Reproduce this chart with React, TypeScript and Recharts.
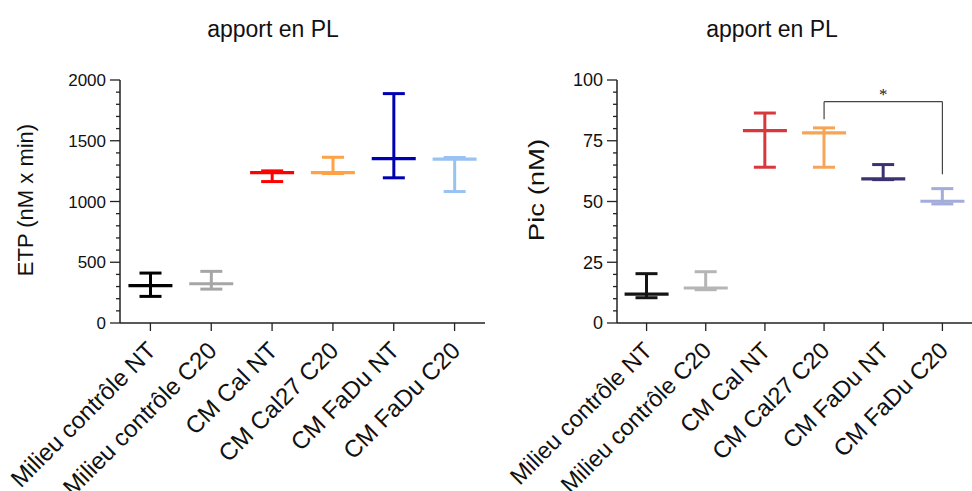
import React from "react";
import {
  ComposedChart,
  Bar,
  Line,
  XAxis,
  YAxis,
  ReferenceLine,
  ReferenceDot,
} from "recharts";

const FONT = '"Liberation Sans", Arial, sans-serif';

const categories = [
  "Milieu contrôle NT",
  "Milieu contrôle C20",
  "CM Cal NT",
  "CM Cal27 C20",
  "CM FaDu NT",
  "CM FaDu C20",
];

// left panel: ETP (nM x min)
const etpMean = [307, 323, 1238, 1238, 1353, 1348];
const etpLow = [219, 279, 1164, 1230, 1195, 1082];
const etpHigh = [411, 425, 1252, 1364, 1888, 1362];
const etpColors = ["#000000", "#a6a6a6", "#ff0000", "#ffa245", "#0000b3", "#99c2f2"];
const etpTicks = [0, 100, 200, 300, 400, 500, 600, 700, 800, 900, 1000, 1100, 1200, 1300, 1400, 1500, 1600, 1700, 1800, 1900, 2000];

// right panel: Pic (nM)
const picMean = [11.9, 14.4, 79.2, 78.2, 59.3, 50.1];
const picLow = [10.4, 13.7, 64.1, 64.1, 59.0, 49.0];
const picHigh = [20.3, 21.1, 86.4, 80.3, 65.2, 55.3];
const picColors = ["#141414", "#b5b5b5", "#d8373c", "#f6a455", "#3b3371", "#a3acdb"];
const picTicks = [0, 5, 10, 15, 20, 25, 30, 35, 40, 45, 50, 55, 60, 65, 70, 75, 80, 85, 90, 95, 100];

// significance bracket (right panel)
const sigFrom = "CM Cal27 C20";
const sigTo = "CM FaDu C20";
const sigMid = "CM FaDu NT";
const sigTop = 91.1;
const sigFromEnd = 83.8;
const sigToEnd = 61.2;

const buildRows = (mean: number[], low: number[], high: number[], colors: string[]) =>
  categories.map((name, i) => ({
    name,
    mean: mean[i],
    range: [low[i], high[i]],
    color: colors[i],
  }));

const etpRows = buildRows(etpMean, etpLow, etpHigh, etpColors);
const picRows = buildRows(picMean, picLow, picHigh, picColors);

const RangeShape = (props: any) => {
  const { x, y, width, height, payload } = props;
  if (x == null || y == null) return null;
  const cx = x + width / 2;
  const top = Math.min(y, y + height);
  const bottom = Math.max(y, y + height);
  return (
    <g stroke={payload.color} strokeWidth={3}>
      <line x1={cx} x2={cx} y1={top} y2={bottom} />
      <line x1={cx - 11} x2={cx + 11} y1={top} y2={top} />
      <line x1={cx - 11} x2={cx + 11} y1={bottom} y2={bottom} />
    </g>
  );
};

const MeanDot = (props: any) => {
  const { cx, cy, payload, index } = props;
  if (cx == null || cy == null) return <g key={index} />;
  return (
    <line
      key={index}
      x1={cx - 22}
      x2={cx + 22}
      y1={cy}
      y2={cy}
      stroke={payload.color}
      strokeWidth={3.2}
    />
  );
};

const YTick = (props: any) => {
  const { x, y, payload, major, fontSize } = props;
  const isMajor = payload.value % major === 0;
  return (
    <g>
      <line x1={x + (isMajor ? 2 : 8)} x2={x + 12} y1={y} y2={y} stroke="#222" strokeWidth={1.3} />
      {isMajor && (
        <text x={x - 2} y={y} dy="0.36em" textAnchor="end" fontSize={fontSize} fill="#111" fontFamily={FONT}>
          {payload.value}
        </text>
      )}
    </g>
  );
};

const XTick = (props: any) => {
  const { x, y, payload, fontSize } = props;
  const px = x + 7;
  const py = y + 19;
  return (
    <text
      x={px}
      y={py}
      transform={`rotate(-45, ${px}, ${py})`}
      textAnchor="end"
      fontSize={fontSize}
      fill="#111"
      fontFamily={FONT}
    >
      {payload.value}
    </text>
  );
};

const Panel = ({ rows, ticks, max, major, yWidth, right, tickFont, labelFont, children }: any) => (
  <ComposedChart
    width={486}
    height={491}
    data={rows}
    margin={{ top: 80, right, bottom: 0, left: 0 }}
  >
    <XAxis
      dataKey="name"
      type="category"
      interval={0}
      height={168}
      tickSize={8}
      tickMargin={2}
      axisLine={{ stroke: "#222", strokeWidth: 1.5 }}
      tickLine={{ stroke: "#222", strokeWidth: 1.3 }}
      tick={(p: any) => <XTick {...p} fontSize={labelFont} />}
    />
    <YAxis
      domain={[0, max]}
      ticks={ticks}
      interval={0}
      width={yWidth}
      tickSize={10}
      tickMargin={2}
      tickLine={false}
      axisLine={{ stroke: "#222", strokeWidth: 1.5 }}
      tick={(p: any) => <YTick {...p} major={major} fontSize={tickFont} />}
    />
    <Bar dataKey="range" barSize={3} shape={RangeShape} isAnimationActive={false} />
    <Line
      dataKey="mean"
      stroke="none"
      dot={MeanDot}
      activeDot={false}
      isAnimationActive={false}
    />
    {children}
  </ComposedChart>
);

const title: React.CSSProperties = {
  position: "absolute",
  width: 300,
  textAlign: "center",
  fontFamily: FONT,
  fontSize: 23,
  lineHeight: "23px",
  color: "#111",
};

const axisTitle: React.CSSProperties = {
  position: "absolute",
  width: 240,
  textAlign: "center",
  fontFamily: FONT,
  color: "#111",
  whiteSpace: "nowrap",
};

export default function App() {
  return (
    <div style={{ position: "absolute", left: 0, top: 0, width: 972, height: 491, background: "#fff" }}>
      <div style={{ display: "flex" }}>
        <Panel rows={etpRows} ticks={etpTicks} max={2000} major={500} yWidth={120} right={1} tickFont={17} labelFont={24} />
        <Panel rows={picRows} ticks={picTicks} max={100} major={25} yWidth={131} right={0} tickFont={18} labelFont={23.5}>
          <ReferenceLine
            segment={[{ x: sigFrom, y: sigTop }, { x: sigTo, y: sigTop }]}
            stroke="#444"
            strokeWidth={1.2}
          />
          <ReferenceLine
            segment={[{ x: sigFrom, y: sigFromEnd }, { x: sigFrom, y: sigTop }]}
            stroke="#444"
            strokeWidth={1.2}
          />
          <ReferenceLine
            segment={[{ x: sigTo, y: sigToEnd }, { x: sigTo, y: sigTop }]}
            stroke="#444"
            strokeWidth={1.2}
          />
          <ReferenceDot
            x={sigMid}
            y={sigTop}
            r={0}
            fill="none"
            stroke="none"
            label={{ value: "*", position: "top", offset: 2, fontSize: 17, fill: "#222" }}
          />
        </Panel>
      </div>
      <div style={{ ...title, left: 123, top: 18 }}>apport en PL</div>
      <div style={{ ...title, left: 622, top: 18 }}>apport en PL</div>
      <div
        style={{
          ...axisTitle,
          left: 26 - 120,
          top: 200 - 13,
          fontSize: 22,
          lineHeight: "26px",
          transform: "rotate(-90deg)",
        }}
      >
        ETP (nM x min)
      </div>
      <div
        style={{
          ...axisTitle,
          left: 537 - 120,
          top: 190 - 13,
          fontSize: 22,
          lineHeight: "26px",
          transform: "rotate(-90deg) scaleX(1.25)",
        }}
      >
        Pic (nM)
      </div>
    </div>
  );
}
